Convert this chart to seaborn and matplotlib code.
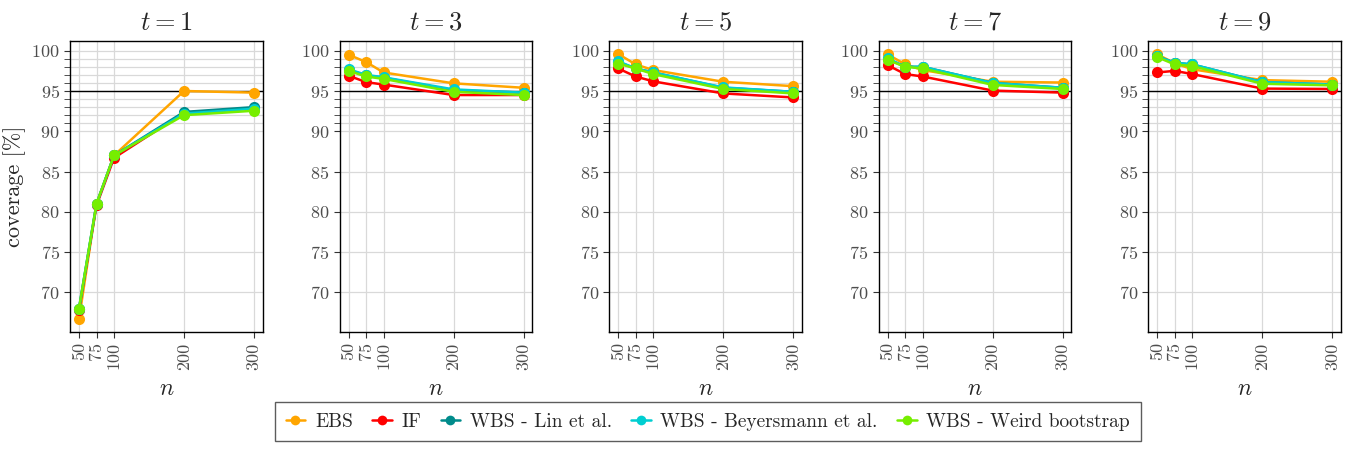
import numpy as np
import pandas as pd
import seaborn as sns
import matplotlib.pyplot as plt
from matplotlib.lines import Line2D

n_values = [50, 75, 100, 200, 300]
t_values = [1, 3, 5, 7, 9]
methods = ["EBS", "IF", "WBS - Lin et al.", "WBS - Beyersmann et al.", "WBS - Weird bootstrap"]
colors = ["#FFA500", "#FF0000", "#008B8B", "#00CED1", "#76EE00"]

# coverage [%] per method, one list per t (n = 50, 75, 100, 200, 300)
ebs = {1: [66.7, 81.0, 87.0, 95.0, 94.8],
       3: [99.5, 98.6, 97.3, 95.95, 95.4],
       5: [99.6, 98.3, 97.6, 96.15, 95.6],
       7: [99.55, 98.3, 97.6, 96.15, 96.05],
       9: [99.55, 98.45, 97.7, 96.35, 96.15]}
inf = {1: [67.8, 80.8, 86.7, 92.3, 92.9],
       3: [96.9, 96.1, 95.8, 94.5, 94.5],
       5: [97.8, 96.8, 96.2, 94.7, 94.2],
       7: [98.2, 97.1, 96.8, 95.05, 94.8],
       9: [97.3, 97.5, 97.1, 95.3, 95.25]}
lin = {1: [68.0, 81.0, 87.0, 92.4, 93.0],
       3: [97.6, 96.95, 96.65, 95.1, 94.8],
       5: [98.6, 97.8, 97.3, 95.4, 94.9],
       7: [99.0, 98.0, 98.0, 96.0, 95.4],
       9: [99.3, 98.5, 98.3, 96.1, 95.8]}
bey = {1: [68.0, 81.0, 87.0, 92.2, 92.8],
       3: [97.7, 97.0, 96.7, 95.2, 94.8],
       5: [98.7, 97.8, 97.3, 95.45, 94.9],
       7: [99.05, 98.0, 98.0, 96.0, 95.4],
       9: [99.3, 98.5, 98.3, 96.1, 95.8]}
wei = {1: [68.0, 81.0, 87.0, 92.0, 92.55],
       3: [97.5, 96.8, 96.5, 94.9, 94.5],
       5: [98.4, 97.8, 97.1, 95.25, 94.7],
       7: [98.85, 98.0, 97.8, 95.75, 95.25],
       9: [99.2, 98.3, 98.1, 95.9, 95.7]}

rows = []
for name, d in zip(methods, [ebs, inf, lin, bey, wei]):
    for t in t_values:
        for n, v in zip(n_values, d[t]):
            rows.append({"method": name, "t": t, "n": n, "coverage": v})
df = pd.DataFrame(rows)

sns.set_style("white")
plt.rcParams["font.family"] = ["cmr10", "DejaVu Serif"]
plt.rcParams["mathtext.fontset"] = "cm"
plt.rcParams["axes.formatter.use_mathtext"] = True

fig, axes = plt.subplots(1, 5, figsize=(13.51, 4.51), dpi=100)
fig.subplots_adjust(left=0.052, right=0.9926, top=0.909, bottom=0.264, wspace=0.4)

palette = dict(zip(methods, colors))
for ax, t in zip(axes, t_values):
    sub = df[df["t"] == t]
    ax.axhline(95, color="black", lw=1, zorder=2)
    sns.lineplot(data=sub, x="n", y="coverage", hue="method", hue_order=methods,
                 palette=palette, marker="o", markersize=8, markeredgewidth=0,
                 linewidth=1.8, ax=ax, legend=False, zorder=3)
    ax.set_xlim(37.5, 312.5)
    ax.set_ylim(65.1, 101.2)
    ax.set_xticks(n_values)
    ax.set_xticklabels([str(n) for n in n_values], rotation=90)
    ax.set_yticks([70, 75, 80, 85, 90, 95, 100])
    ax.set_yticks(list(range(91, 100)), minor=True)
    ax.grid(True, which="both", color="#d9d9d9", lw=0.9, zorder=0)
    ax.set_axisbelow(True)
    for s in ax.spines.values():
        s.set_color("black")
        s.set_linewidth(1)
    ax.tick_params(which="both", direction="out", length=4, color="#333333",
                   labelcolor="#4d4d4d", labelsize=13, left=True, bottom=True)
    ax.tick_params(which="minor", labelleft=False)
    ax.set_title(f"$t = {t}$", fontsize=19, pad=8)
    ax.set_xlabel("$n$", fontsize=17, labelpad=6)
    ax.set_ylabel("")
axes[0].set_ylabel("coverage [%]", fontsize=16)

handles = [Line2D([0], [0], color=c, marker="o", markersize=7, lw=1.8, markeredgewidth=0)
           for c in colors]
leg = fig.legend(handles, methods, loc="lower center", ncol=5, bbox_to_anchor=(0.524, 0.0),
                 frameon=True, fancybox=False, edgecolor="#333333", fontsize=14,
                 handlelength=1.0, columnspacing=1.0, handletextpad=0.5,
                 borderpad=0.55)
leg.get_frame().set_linewidth(1)

fig.savefig("out.png", dpi=100)
